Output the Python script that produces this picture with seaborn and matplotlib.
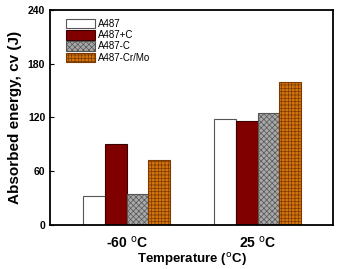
import pandas as pd
import seaborn as sns
import matplotlib.pyplot as plt

# Data
temperaturat = ["-60 $^{\\mathrm{o}}$C", "25 $^{\\mathrm{o}}$C"]
serite = ["A487", "A487+C", "A487-C", "A487-Cr/Mo"]
a487 = [32, 118]
a487_plus_c = [90, 116]
a487_minus_c = [34, 125]
a487_crmo = [72, 160]

ngjyrat = ["#ffffff", "#800000", "#a8a8a8", "#d2730f"]
hatches = ["", "", "xxxxxx", "+++++"]
hatch_ngjyra = ["#555555", "#3a0000", "#555555", "#7a3a00"]

data = pd.DataFrame({
    "Temperature": temperaturat * 4,
    "Seria": [s for s in serite for _ in temperaturat],
    "Energy": a487 + a487_plus_c + a487_minus_c + a487_crmo,
})

sns.set_style("ticks")
plt.rcParams["font.family"] = ["Liberation Sans", "DejaVu Sans"]
plt.rcParams["hatch.linewidth"] = 0.5
plt.rcParams["text.color"] = "black"
plt.rcParams["axes.labelcolor"] = "black"
plt.rcParams["xtick.color"] = "black"
plt.rcParams["ytick.color"] = "black"

fig, ax = plt.subplots(figsize=(3.43, 2.69), dpi=100)
sns.barplot(data=data, x="Temperature", y="Energy", hue="Seria",
            hue_order=serite, palette=ngjyrat, width=0.665, saturation=1,
            edgecolor="#555555", linewidth=0.8, ax=ax)

# Hatches per series (bars and legend patches)
for i, cont in enumerate(ax.containers):
    for bar in cont:
        bar.set_hatch(hatches[i])
        bar.set_edgecolor(hatch_ngjyra[i])

ax.set_ylim(0, 240)
ax.set_yticks([0, 60, 120, 180, 240])
ax.set_xlim(-0.586, 1.577)
ax.tick_params(axis="y", direction="in", length=3, labelsize=7.5)
ax.tick_params(axis="x", length=0, labelsize=10, pad=7)
for lbl in ax.get_yticklabels() + ax.get_xticklabels():
    lbl.set_fontweight("bold")

ax.set_ylabel("Absorbed energy, cv (J)", fontsize=11, fontweight="bold", labelpad=4)
ax.set_xlabel("Temperature ($^{\\mathrm{o}}$C)", fontsize=9.5, fontweight="bold", labelpad=0)

for s in ax.spines.values():
    s.set_linewidth(1.3)
    s.set_color("black")

leg = ax.legend(loc="upper left", bbox_to_anchor=(0.035, 0.985), fontsize=7,
                frameon=False, handlelength=3.0, handleheight=1.1,
                labelspacing=0.12, handletextpad=0.3, borderaxespad=0.2)
for i, h in enumerate(leg.legend_handles):
    h.set_hatch(hatches[i])
    h.set_edgecolor(hatch_ngjyra[i])

fig.subplots_adjust(left=0.146, right=0.971, top=0.963, bottom=0.164)
fig.savefig("out.png", dpi=100)
